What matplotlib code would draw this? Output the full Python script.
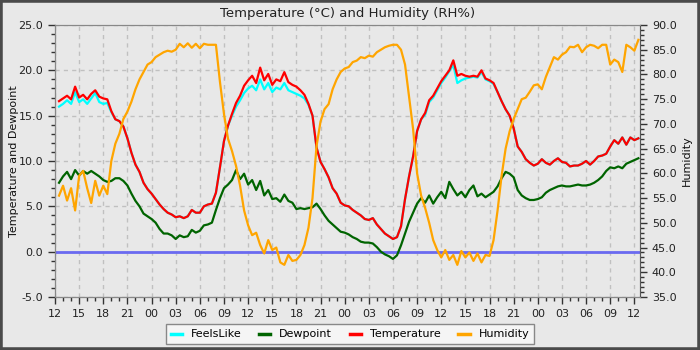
import pandas as pd
import matplotlib.pyplot as plt
import matplotlib.dates as mdates
from matplotlib.ticker import MultipleLocator, FormatStrFormatter
from matplotlib.patches import Rectangle

# half-hourly readings, starting 12:30 on day one
start = "2024-03-10 12:30"

temperature = [
    16.6, 16.9, 17.2, 16.8, 18.2, 17.0, 17.3, 16.8, 17.4, 17.8, 17.1, 16.9,
    16.8, 15.5, 14.6, 14.4, 13.8, 12.5, 10.9, 9.6, 8.8, 7.6, 6.9, 6.4,
    5.8, 5.2, 4.7, 4.3, 4.1, 3.8, 3.9, 3.7, 3.9, 4.6, 4.3, 4.3,
    5.0, 5.2, 5.3, 6.5, 9.3, 12.2, 13.9, 15.2, 16.4, 17.2, 18.3, 18.9,
    19.4, 18.6, 20.3, 18.9, 19.6, 18.4, 19.0, 18.8, 19.8, 18.7, 18.4, 18.2,
    17.8, 17.3, 16.3, 15.0, 11.5, 9.9, 9.1, 8.2, 7.0, 6.4, 5.4, 5.1,
    5.0, 4.6, 4.3, 4.0, 3.6, 3.5, 3.7, 3.0, 2.5, 2.0, 1.7, 1.4,
    1.6, 2.8, 5.8, 8.3, 10.5, 13.3, 14.6, 15.3, 16.7, 17.2, 18.0, 18.8,
    19.4, 20.0, 21.1, 19.4, 19.6, 19.4, 19.3, 19.4, 19.3, 20.0, 19.1, 18.9,
    18.6, 17.6, 16.6, 15.7, 15.0, 13.6, 11.6, 11.0, 10.2, 9.8, 9.5, 9.7,
    10.2, 9.8, 9.6, 10.0, 10.3, 9.9, 9.8, 9.4, 9.5, 9.5, 9.7, 10.0,
    9.6, 10.0, 10.5, 10.6, 10.8, 11.6, 12.3, 11.9, 12.6, 11.8, 12.6, 12.3,
    12.5,
]

feels_like = [
    16.0, 16.3, 16.7, 16.3, 17.6, 16.5, 16.8, 16.3, 16.9, 17.5, 16.5, 16.3,
    16.4, 15.4, 14.6, 14.4, 13.8, 12.5, 10.9, 9.6, 8.8, 7.6, 6.9, 6.4,
    5.8, 5.2, 4.7, 4.3, 4.1, 3.8, 3.9, 3.7, 3.9, 4.6, 4.3, 4.3,
    5.0, 5.2, 5.3, 6.5, 9.3, 12.2, 13.9, 15.0, 16.0, 16.7, 17.5, 18.0,
    18.3, 17.8, 19.0, 17.9, 18.6, 17.6, 18.1, 17.9, 18.6, 17.8, 17.6, 17.4,
    17.2, 16.9, 16.2, 15.0, 11.5, 9.9, 9.1, 8.2, 7.0, 6.4, 5.4, 5.1,
    5.0, 4.6, 4.3, 4.0, 3.6, 3.5, 3.7, 3.0, 2.5, 2.0, 1.7, 1.4,
    1.6, 2.8, 5.8, 8.3, 10.5, 13.3, 14.6, 15.1, 16.5, 17.0, 17.8, 18.6,
    19.2, 19.9, 20.6, 18.6, 18.9, 19.1, 19.2, 19.3, 19.2, 19.8, 19.0, 18.8,
    18.5, 17.6, 16.6, 15.7, 15.0, 13.6, 11.6, 11.0, 10.2, 9.8, 9.5, 9.7,
    10.2, 9.8, 9.6, 10.0, 10.3, 9.9, 9.8, 9.4, 9.5, 9.5, 9.7, 10.0,
    9.6, 10.0, 10.5, 10.6, 10.8, 11.6, 12.3, 11.9, 12.6, 11.8, 12.6, 12.3,
    12.5,
]

dewpoint = [
    7.6, 8.3, 8.8, 8.0, 9.0, 8.4, 8.9, 8.6, 8.9, 8.6, 8.3, 7.9,
    7.7, 7.8, 8.1, 8.1, 7.8, 7.3, 6.4, 5.6, 5.0, 4.2, 3.9, 3.6,
    3.2, 2.5, 2.0, 2.0, 1.8, 1.4, 1.8, 1.6, 1.7, 2.4, 2.1, 2.3,
    2.9, 3.0, 3.2, 4.6, 5.9, 7.0, 7.4, 7.9, 9.0, 8.0, 8.6, 7.4,
    7.9, 6.8, 7.8, 6.2, 6.8, 5.8, 5.9, 5.5, 6.3, 5.6, 5.4, 4.7,
    4.8, 4.7, 4.8, 4.9, 5.3, 4.7, 4.0, 3.4, 3.0, 2.6, 2.2, 2.1,
    1.9, 1.6, 1.4, 1.1, 1.0, 1.0, 0.9, 0.5, 0.0, -0.3, -0.5, -0.8,
    -0.4, 0.7, 2.0, 3.3, 4.3, 5.3, 5.9, 5.4, 6.2, 5.3, 6.0, 6.6,
    5.9, 7.7, 6.9, 6.2, 6.6, 6.0, 6.8, 7.3, 6.1, 6.4, 6.0, 6.3,
    6.6, 7.2, 8.1, 8.8, 8.6, 8.2, 6.8, 6.2, 5.9, 5.7, 5.7, 5.8,
    6.0, 6.5, 6.8, 7.0, 7.2, 7.3, 7.2, 7.2, 7.3, 7.4, 7.3, 7.3,
    7.4, 7.6, 7.9, 8.3, 8.9, 9.3, 9.2, 9.4, 9.2, 9.7, 9.9, 10.1,
    10.3,
]

humidity = [
    55.5, 57.5, 54.5, 57.0, 52.5, 59.5, 60.5, 57.0, 54.0, 58.5, 55.5, 57.5,
    55.8, 62.5, 66.0, 68.0, 71.0, 72.5, 74.5, 77.0, 79.0, 80.5, 82.0, 82.5,
    83.5, 84.0, 84.5, 84.8, 84.6, 85.0, 86.2, 85.5, 86.3, 85.4, 86.2, 85.3,
    86.2, 86.0, 86.0, 86.0, 78.5, 72.0, 67.0, 64.5, 61.5, 57.5, 52.5, 49.5,
    47.5, 48.0, 45.5, 43.8, 46.5, 44.5, 45.0, 42.0, 41.5, 43.5, 42.3, 42.5,
    43.5, 45.5, 49.0, 55.0, 65.5, 70.5, 73.0, 74.0, 77.0, 79.0, 80.5, 81.2,
    81.5, 82.5, 82.8, 83.5, 83.3, 83.8, 83.6, 84.5, 85.0, 85.5, 85.8, 86.0,
    86.0, 85.0, 82.0, 75.5, 69.0, 60.0, 55.5, 53.0, 50.0, 46.5, 44.5, 43.0,
    44.5, 42.5, 43.5, 41.5, 44.3, 43.0, 44.0, 42.3, 43.8, 42.0, 43.5, 43.3,
    46.5, 52.5, 59.5, 65.0, 68.5, 71.0, 73.0, 75.0, 75.3, 76.5, 77.8, 78.0,
    77.0, 79.5, 81.5, 83.5, 83.0, 84.0, 84.5, 85.6, 85.5, 86.0, 84.5, 85.5,
    86.0, 85.8, 85.3, 86.0, 86.0, 82.0, 83.0, 82.5, 80.5, 86.0, 85.5, 84.8,
    87.0,
]

times = pd.date_range(start, periods=len(temperature), freq="30min")

bg = "#e8e8e8"
fig = plt.figure(figsize=(7, 3.5), dpi=100, facecolor=bg)
ax = fig.add_axes([55 / 700, 1 - 297 / 350, 585 / 700, 272 / 350])
ax.set_facecolor(bg)

lw = 1.6
ax.plot(times, feels_like, color="#00ffff", lw=lw, label="FeelsLike")
ax.plot(times, dewpoint, color="#006400", lw=lw, label="Dewpoint")
ax.plot(times, temperature, color="#ff0000", lw=lw, label="Temperature")

ax2 = ax.twinx()
ax2.plot(times, humidity, color="#ffa500", lw=lw, label="Humidity")

# freezing line on the temperature scale
ax.axhline(0.0, color="#6a6af0", lw=2, zorder=1)

ax.set_xlim(pd.Timestamp("2024-03-10 12:00"), pd.Timestamp("2024-03-13 12:42"))
ax.set_ylim(-5, 25)
ax2.set_ylim(35, 90)

ax.xaxis.set_major_locator(mdates.HourLocator(byhour=range(0, 24, 3)))
ax.xaxis.set_minor_locator(mdates.HourLocator())
ax.xaxis.set_major_formatter(mdates.DateFormatter("%H"))
ax.yaxis.set_major_locator(MultipleLocator(5))
ax.yaxis.set_minor_locator(MultipleLocator(1))
ax.yaxis.set_major_formatter(FormatStrFormatter("%.1f"))
ax2.yaxis.set_major_locator(MultipleLocator(5))
ax2.yaxis.set_minor_locator(MultipleLocator(1))
ax2.yaxis.set_major_formatter(FormatStrFormatter("%.1f"))

ax.grid(True, which="major", color="#c0c0c0", ls=(0, (3, 3)), lw=1)
ax.set_axisbelow(True)

for a in (ax, ax2):
    a.tick_params(which="both", direction="out", color="#333333", labelsize=8, labelcolor="#222222")
    a.tick_params(which="major", length=5, width=1)
    a.tick_params(which="minor", length=3, width=1)
    for s in a.spines.values():
        s.set_color("#888888")
ax.spines["left"].set_color("#555555")
ax.spines["bottom"].set_color("#555555")
ax2.spines["right"].set_color("#555555")

ax.set_title("Temperature (°C) and Humidity (RH%)", fontsize=9.5, color="#222222", pad=6)
ax.set_ylabel("Temperature and Dewpoint", fontsize=8, color="#111111")
ax2.set_ylabel("Humidity", fontsize=8, color="#111111")
ax.yaxis.set_label_coords(-36 / 585, 0.5)
ax2.yaxis.set_label_coords(1 + 42 / 585, 0.5)

h1, l1 = ax.get_legend_handles_labels()
h2, l2 = ax2.get_legend_handles_labels()
leg = fig.legend(h1 + h2, l1 + l2, loc="lower center", bbox_to_anchor=(0.5, 0.0),
                 ncol=4, fontsize=8, frameon=True, fancybox=False, framealpha=1,
                 facecolor="#f5f5f5", edgecolor="#888888", handlelength=1.0,
                 handletextpad=0.8, columnspacing=1.6, borderpad=0.45)
for line in leg.get_lines():
    line.set_linewidth(2.5)

# dark frame round the whole image
fig.patches.append(Rectangle((0, 0), 1, 1, transform=fig.transFigure, fill=False,
                             edgecolor="#4a4a4a", linewidth=4, zorder=10))

fig.savefig("out.png", dpi=100, facecolor=bg)
